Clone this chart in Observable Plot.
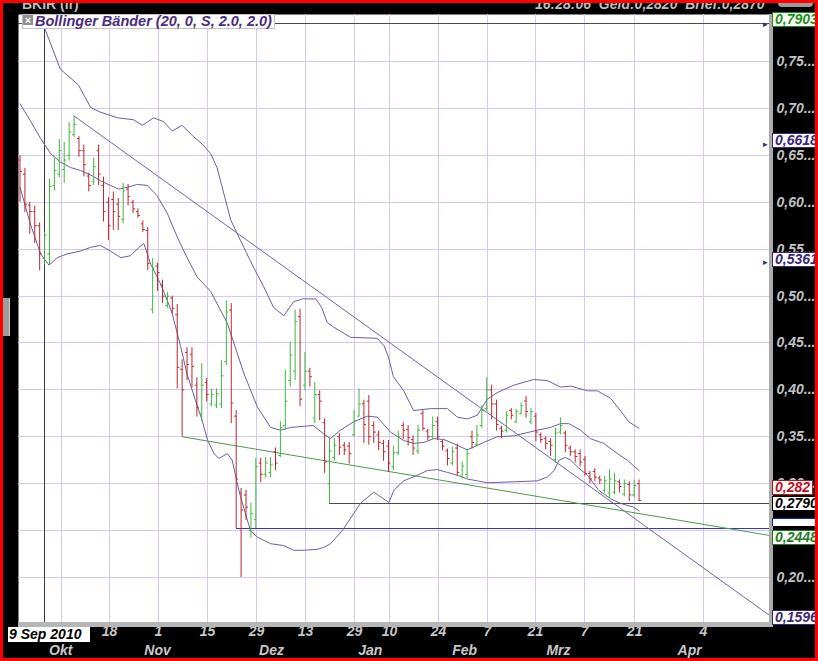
<!DOCTYPE html>
<html><head><meta charset="utf-8">
<script src="https://cdn.jsdelivr.net/npm/d3@7"></script>
<script src="https://cdn.jsdelivr.net/npm/@observablehq/plot@0.6"></script>
<style>
html,body{margin:0;padding:0;background:#000;}
#wrap{position:relative;width:818px;height:661px;background:#000;overflow:hidden;font-family:"Liberation Sans",Arial,sans-serif;}
#wrap svg{position:absolute;left:0;top:0;}
.ov{position:absolute;white-space:pre;}
.vbox{position:absolute;left:772px;height:15px;line-height:13px;box-sizing:border-box;border:1px solid;background:#fff;font-size:14px;font-weight:bold;font-style:italic;padding:0 2px 0 2px;}
</style></head>
<body><div id="wrap"></div>
<script>
// ---- OHLC bars (one per trading day, index 0..126) ----
const high = [.650,.636,.600,.596,.578,.568,.625,.647,.667,.664,.685,.692,.670,.661,.631,.647,.661,.627,.605,.611,
.604,.620,.619,.602,.593,.580,.573,.540,.535,.517,.504,.500,.491,.432,.445,.445,.413,.428,.412,.401,
.401,.431,.495,.492,.378,.295,.293,.279,.327,.327,.328,.328,.338,.366,.421,.451,.485,.486,.440,.423,
.408,.399,.369,.349,.348,.353,.344,.344,.378,.401,.389,.394,.366,.356,.346,.346,.340,.356,.365,.362,
.351,.362,.378,.358,.371,.371,.346,.337,.339,.342,.323,.337,.356,.362,.383,.413,.405,.389,.361,.377,
.380,.379,.386,.393,.380,.375,.354,.350,.348,.359,.370,.356,.340,.336,.336,.329,.313,.316,.308,.308,
.315,.311,.304,.304,.302,.304,.304];
const low = [.600,.589,.566,.556,.527,.533,.533,.612,.626,.620,.644,.669,.648,.627,.611,.618,.618,.579,.559,.570,
.570,.577,.596,.588,.583,.568,.527,.481,.505,.492,.487,.481,.401,.350,.410,.402,.371,.366,.387,.382,
.380,.380,.426,.364,.252,.200,.261,.242,.252,.301,.306,.306,.314,.328,.357,.403,.410,.382,.399,.403,
.364,.367,.311,.279,.324,.330,.330,.321,.350,.371,.343,.341,.343,.335,.324,.312,.314,.330,.347,.340,
.330,.331,.356,.346,.347,.346,.335,.319,.319,.308,.305,.305,.337,.339,.359,.377,.368,.356,.348,.354,
.368,.364,.373,.370,.363,.345,.343,.336,.329,.322,.352,.333,.329,.322,.318,.308,.300,.302,.299,.290,
.284,.288,.290,.286,.281,.285,.281];
const open = [.645,.630,.597,.590,.575,.540,.545,.618,.630,.635,.650,.672,.668,.655,.628,.622,.655,.618,.600,.603,
.598,.582,.614,.600,.590,.577,.570,.486,.532,.512,.490,.498,.480,.422,.440,.438,.405,.375,.408,.385,
.384,.385,.430,.485,.372,.290,.288,.250,.262,.322,.310,.312,.334,.330,.362,.410,.420,.478,.405,.420,
.370,.395,.365,.300,.328,.350,.341,.340,.352,.372,.385,.388,.362,.352,.343,.340,.318,.333,.362,.358,
.347,.335,.375,.356,.350,.366,.345,.335,.322,.338,.308,.310,.350,.342,.362,.380,.400,.385,.359,.357,
.378,.366,.375,.388,.366,.372,.352,.348,.345,.326,.355,.354,.338,.334,.332,.326,.311,.313,.306,.293,
.290,.291,.302,.289,.299,.288,.300];
const close = [.633,.598,.590,.575,.545,.565,.617,.634,.655,.645,.675,.683,.655,.640,.618,.638,.630,.590,.575,.590,
.585,.612,.606,.593,.586,.571,.535,.530,.525,.500,.500,.487,.424,.400,.427,.425,.381,.405,.395,.395,
.396,.415,.483,.386,.305,.272,.275,.268,.318,.310,.322,.320,.322,.360,.388,.437,.473,.390,.420,.414,
.395,.388,.323,.335,.341,.339,.336,.332,.366,.385,.363,.350,.355,.344,.334,.322,.333,.350,.357,.349,
.338,.357,.359,.350,.362,.350,.340,.327,.334,.312,.319,.332,.344,.352,.378,.400,.385,.363,.356,.373,
.373,.377,.383,.377,.377,.355,.347,.343,.341,.354,.362,.341,.334,.329,.323,.311,.305,.307,.304,.303,
.305,.303,.297,.300,.288,.298,.282];

// ---- Bollinger bands (20, 2.0), read at sample positions (bar index, value) ----
const upperIdx = [3,5,8.2,11.9,14.4,16.4,19.9,23.1,24.9,27.2,29.2,31,33,35.1,37.1,38.8,40.1,41.5,42.9,44.9,47.5,49.6,51.6,53.7,55.7,57.5,60.2,61.4,62.5,63.8,67.3,72.7,74.1,75,76,78.1,80.1,83.6,87,89,91,93.1,95.1,97.1,100.5,104.5,107.3,110,112.1,115.5,117.5,120.2,122.2,123.9,126];
const upperVal = [.830,.786,.742,.725,.701,.696,.690,.688,.682,.690,.686,.676,.682,.671,.662,.652,.637,.609,.581,.559,.531,.510,.488,.479,.494,.497,.497,.488,.472,.467,.456,.455,.447,.435,.414,.399,.378,.380,.380,.371,.369,.373,.390,.397,.405,.411,.410,.403,.404,.399,.399,.391,.378,.366,.359];
const middleIdx = [0,2.1,4.2,6.2,8.2,10.3,12.3,14.4,16.4,18.4,20.1,21.8,23.9,25.9,27.9,30,32,34,36.1,38.8,42.2,45.6,48.3,51,53,55.1,59.7,61.8,63.2,65.2,67.9,70.7,72.7,75.4,78.1,80.2,82.2,84.2,86.3,89,91,94.4,97.1,100.5,105.3,108,110,111.7,114.1,116.1,118.8,121.6,123.6,126];
const middleVal = [.705,.687,.668,.652,.643,.637,.634,.629,.623,.618,.614,.616,.619,.618,.607,.588,.563,.541,.520,.505,.471,.417,.382,.360,.357,.360,.362,.353,.348,.357,.366,.372,.371,.355,.346,.343,.344,.348,.347,.341,.336,.344,.350,.351,.357,.360,.364,.364,.357,.348,.343,.332,.325,.314];
const lowerIdx = [0,2.1,4.2,5.9,7.6,9.6,12.3,14.4,16.4,18.4,20.5,22.5,24.2,25.2,26.6,28.6,30,31,32.7,34,35.7,37.1,38.2,39.5,40.5,42.2,43.2,44.1,44.9,45.9,46.9,48.3,51,53.7,55.7,57.8,60.5,61.8,63.2,65.6,67.9,69.3,72,75.1,76.1,78.1,80.9,82.9,84.9,87,89,91,93.1,95.1,100.5,105.3,107.3,108.7,109.7,111,112.1,113.4,115.5,117.8,120.2,122.2,124.9,126];
const lowerVal = [.616,.577,.545,.533,.541,.545,.548,.552,.554,.548,.541,.543,.552,.556,.534,.513,.495,.481,.446,.417,.389,.367,.346,.332,.327,.332,.325,.303,.286,.268,.250,.243,.236,.234,.229,.229,.230,.232,.236,.250,.268,.279,.291,.280,.293,.303,.309,.314,.315,.312,.309,.305,.303,.301,.302,.303,.307,.314,.325,.328,.325,.318,.309,.293,.284,.279,.275,.271];

// ---- drawn objects ----
const trendIdx = [11, 152.55], trendVal = [0.692, 0.1596];       // resistance (falling)
const supportIdx = [33, 152.55], supportVal = [0.350, 0.2448];   // green support
const levelVal = [0.7903, 0.2790, 0.2522];                        // horizontal levels
const levelFrom = [-0.305, 63, 44];                               // start bar of each level
const cursorIdx = 5;                                              // 29 Sep 2010

// ---- axis ticks / labels ----
const yTicks = [0.20,0.25,0.30,0.35,0.40,0.45,0.50,0.55,0.60,0.65,0.70,0.75];
const yLabelTicks = [0.20,0.30,0.35,0.40,0.45,0.50,0.55,0.60,0.65,0.70,0.75];
const gridIdx = [8.45,18.22,28.19,38.16,48.14,58.11,68.08,75.21,85.18,95.15,104.9,114.9,125.1,139.1];
const dayIdx = [18.22,28.19,38.16,48.14,58.11,68.08,75.21,85.18,95.15,104.9,114.9,125.1,139.1];
const dayLabels = ["18","1","15","29","13","29","10","24","7","21","7","21","4"];
const monthIdx = [8.3,28.0,51.2,71.3,90.5,109.6,136.3];
const monthLabels = ["Okt","Nov","Dez","Jan","Feb","Mrz","Apr"];
const valueLabels = [0.7903,0.6618,0.5361,0.2448,0.2790,0.282,0.1596];
const valueTexts = ["0,7903","0,6618","0,5361","0,2448","0,2790","0,282","0,1596"];
const hiddenLevel = 0.2522;   // its label box lies under 0,2448
const markerVals = [0.7903,0.6618,0.5361];

// ---- styling (not data) ----
const valueColors = ["#189018","#3a2878","#3a2878","#1c7e1c","#000000","#c0101c","#3a2878"];
const valueShift = [-3.3,-3.8,-2.4,3,0.3,-12.9,3];
const GREEN = "#3db83d", RED = "#b8282e", BAND = "#6d5f9d", GRID = "#d9c7ee";
const xDom = [-0.305, 152.55];

const bars = high.map((h, i) => ({i, h, l: low[i], o: open[i], c: close[i], col: close[i] >= open[i] ? GREEN : RED}));
const pts = (xs, vs) => xs.map((x, k) => ({x, v: vs[k]}));
const tl = 0.42;
const font = {fontSize: 14, fontWeight: "bold", fontStyle: "italic"};

const chart = Plot.plot({
  width: 818, height: 661,
  marginLeft: 18, marginRight: 49, marginTop: 14, marginBottom: 39,
  x: {domain: xDom, axis: null},
  y: {domain: [0.152, 0.8002], axis: null},
  color: {type: "identity"},
  style: {background: "transparent", overflow: "visible", fontFamily: "'Liberation Sans', Arial, sans-serif"},
  marks: [
    Plot.frame({fill: "#ffffff", stroke: null}),
    Plot.ruleX(gridIdx, {stroke: GRID, shapeRendering: "crispEdges"}),
    Plot.ruleY(yTicks, {stroke: GRID, shapeRendering: "crispEdges"}),
    Plot.ruleX([cursorIdx], {stroke: "#3a3a3a", shapeRendering: "crispEdges"}),
    Plot.ruleY(levelVal.map((v, k) => ({v, from: levelFrom[k], col: ["#4a4a4a","#4a4a4a","#3434c8"][k]})),
      {y: "v", x1: "from", x2: () => xDom[1], stroke: "col", shapeRendering: "crispEdges"}),
    Plot.line(pts(upperIdx, upperVal), {x: "x", y: "v", stroke: BAND, strokeWidth: 1, clip: true}),
    Plot.line(pts(middleIdx, middleVal), {x: "x", y: "v", stroke: BAND, strokeWidth: 1, clip: true}),
    Plot.line(pts(lowerIdx, lowerVal), {x: "x", y: "v", stroke: BAND, strokeWidth: 1, clip: true}),
    Plot.line(pts(trendIdx, trendVal), {x: "x", y: "v", stroke: "#6e66a8", strokeWidth: 1}),
    Plot.line(pts(supportIdx, supportVal), {x: "x", y: "v", stroke: "#4a9d4a", strokeWidth: 1}),
    Plot.ruleX(bars, {x: "i", y1: "l", y2: "h", stroke: "col", strokeWidth: 1}),
    Plot.link(bars, {x1: d => d.i - tl, x2: "i", y1: "o", y2: "o", stroke: "col"}),
    Plot.link(bars, {x1: "i", x2: d => d.i + tl, y1: "c", y2: "c", stroke: "col"}),
    Plot.text(markerVals, {y: d => d, text: () => "\u25B8", frameAnchor: "right", dx: -2, fill: "#3a2878", fontSize: 9}),
    Plot.text(yLabelTicks, {y: d => d, text: d => d.toFixed(2).replace(".", ",") + "...", frameAnchor: "right", dx: 7, textAnchor: "start", fill: "#c2c2c2", ...font}),
    Plot.text(dayIdx, {x: d => d, text: (d, k) => dayLabels[k], frameAnchor: "bottom", dy: 13, fill: "#c8c8c8", ...font}),
    Plot.text(monthIdx, {x: d => d, text: (d, k) => monthLabels[k], frameAnchor: "bottom", dy: 32, fill: "#c8c8c8", ...font})
  ]
});

const wrap = document.getElementById("wrap");
wrap.appendChild(chart);
const ys = chart.scale("y"), xs = chart.scale("x");
function add(html, css) { const d = document.createElement("div"); d.className = "ov"; d.innerHTML = html; Object.assign(d.style, css); wrap.appendChild(d); return d; }

// gray frame strips
add("", {left: "769px", top: "14px", width: "4px", height: "613px", background: "#ababab"});
add("", {left: "18px", top: "622px", width: "755px", height: "5px", background: "#b6b6b6"});
// left scroll handle
add("", {left: "2px", top: "298px", width: "7px", height: "38px", background: "#9c9c9c", borderRight: "1px solid #d0d0d0"});
// header texts
add("BKIR (Ir)", {left: "22px", top: "-3px", fontSize: "14px", lineHeight: "14px", fontWeight: "bold", color: "#bdbdbd"});
add("16:28:06  Geld:0,2820  Brief:0,2870", {left: "535px", top: "-3px", fontSize: "14px", lineHeight: "14px", fontWeight: "bold", fontStyle: "italic", color: "#bdbdbd"});
add("", {left: "778px", top: "-3px", width: "35px", height: "10px", background: "#9a9a9a", borderRadius: "4px"});
// legend
add("", {left: "22px", top: "14px", width: "253px", height: "15px", background: "#fff", border: "1px solid #c4c4c4", boxSizing: "border-box"});
add("\u00D7", {left: "23px", top: "15px", width: "10px", height: "10px", background: "#8e8e8e", color: "#fff", fontSize: "11px", lineHeight: "10px", textAlign: "center", fontWeight: "bold"});
add("Bollinger B\u00E4nder (20, 0, S, 2.0, 2.0)", {left: "35px", top: "14px", fontSize: "14.5px", lineHeight: "15px", fontWeight: "bold", fontStyle: "italic", color: "#4a2c82"});
// blue level's label box, mostly hidden under the 0,2448 box
add("", {left: "772px", top: (ys.apply(hiddenLevel) - 10) + "px", width: "46px", height: "8px", background: "#fff", border: "1px solid #2020b0", borderBottom: "none", boxSizing: "border-box"});
// value boxes on the right scale
valueLabels.forEach((v, k) => {
  const d = document.createElement("div");
  d.className = "vbox";
  d.textContent = valueTexts[k];
  d.style.color = valueColors[k]; d.style.borderColor = valueColors[k];
  d.style.top = (ys.apply(v) + valueShift[k] - 7.5) + "px";
  wrap.appendChild(d);
});
// cursor date box
add("9 Sep 2010", {left: (xs.apply(cursorIdx) - 36) + "px", top: "627px", width: "81px", height: "15px", lineHeight: "15px", background: "#fff", color: "#000", fontSize: "14px", fontWeight: "bold", fontStyle: "italic", paddingLeft: "1px"});
// outer red border
add("", {left: "0", top: "0", width: "818px", height: "661px", border: "3px solid #ff0000", boxSizing: "border-box", pointerEvents: "none"});
</script>
</body></html>
